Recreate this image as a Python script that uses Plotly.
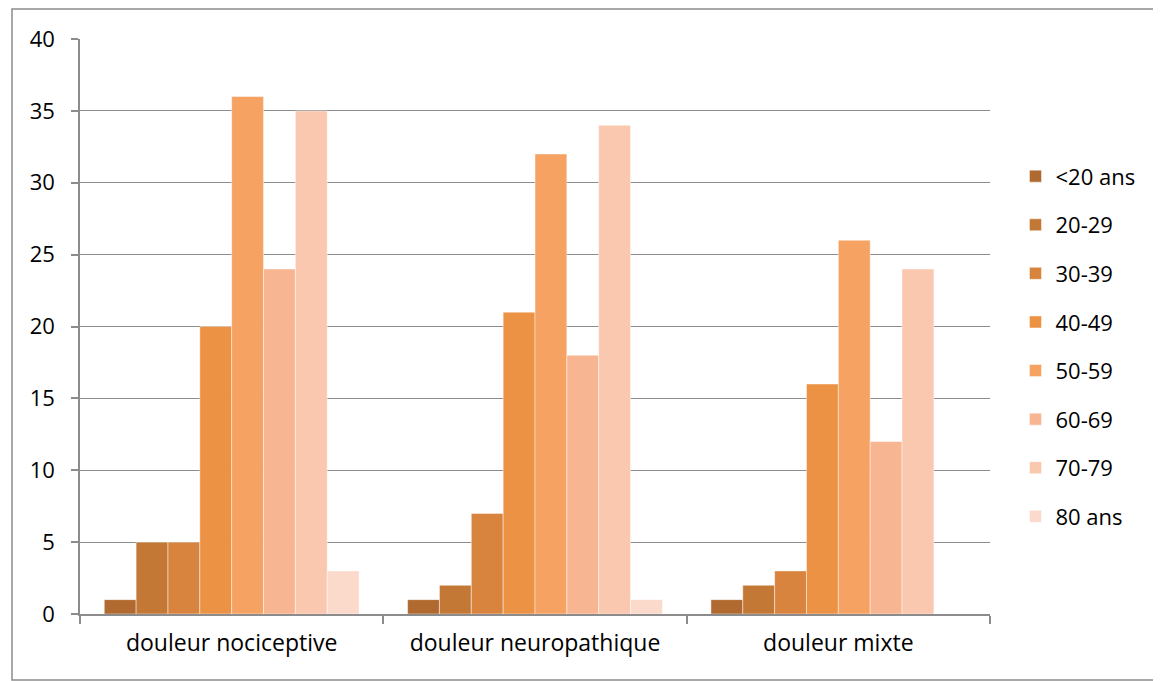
import plotly.graph_objects as go

categories = ["douleur nociceptive", "douleur neuropathique", "douleur mixte"]
series_names = ["<20 ans", "20-29", "30-39", "40-49", "50-59", "60-69", "70-79", "80 ans"]
values_lt20 = [1, 1, 1]
values_20_29 = [5, 2, 2]
values_30_39 = [5, 7, 3]
values_40_49 = [20, 21, 16]
values_50_59 = [36, 32, 26]
values_60_69 = [24, 18, 12]
values_70_79 = [35, 34, 24]
values_80 = [3, 1, 0]
all_values = [values_lt20, values_20_29, values_30_39, values_40_49,
              values_50_59, values_60_69, values_70_79, values_80]
colors = ["#B0692F", "#C47836", "#D9843E", "#EC9244", "#F6A263", "#F7B691", "#F9C8AE", "#FBDACB"]
y_ticks = [0, 5, 10, 15, 20, 25, 30, 35, 40]

FONT = "Open Sans"
FS = 22
W, H = 1153, 673
L, R, T, B = 72, 171, 31, 67
PW = W - L - R
PH = H - T - B

fig = go.Figure()
for name, vals, col in zip(series_names, all_values, colors):
    fig.add_trace(go.Bar(
        x=categories, y=vals, name=name, legendgroup=name,
        marker=dict(color=col, line=dict(color="rgba(255,255,255,0.45)", width=1)),
    ))

# outer chart border
fig.add_shape(type="rect", xref="paper", yref="paper",
              x0=(4 - L) / PW, x1=(W + 20 - L) / PW,
              y0=(T + PH - 672) / PH, y1=(T + PH - 1) / PH,
              line=dict(color="#8C8C8C", width=1.5), fillcolor="rgba(0,0,0,0)", layer="below")

fig.update_layout(
    width=W, height=H,
    margin=dict(l=L, r=R, t=T, b=B),
    paper_bgcolor="white", plot_bgcolor="white",
    barmode="group", bargap=0.16, bargroupgap=0,
    font=dict(family=FONT, size=FS, color="black"),
    showlegend=True,
    legend=dict(x=1.028, xanchor="left", y=0.4655, yanchor="middle",
                tracegroupgap=17, font=dict(family=FONT, size=FS, color="black"),
                bgcolor="rgba(0,0,0,0)"),
    xaxis=dict(showline=True, linecolor="#8C8C8C", linewidth=1.5,
               ticks="outside", tickson="boundaries", ticklen=8, tickcolor="#8C8C8C",
               tickwidth=1.5, showgrid=False, ticklabelstandoff=8,
               tickfont=dict(family=FONT, size=23)),
    yaxis=dict(range=[0, 40], tickvals=y_ticks, showline=True, linecolor="#8C8C8C",
               linewidth=1.5, ticks="outside", ticklen=7, tickcolor="#8C8C8C", tickwidth=1.5,
               showgrid=True, gridcolor="#8C8C8C", gridwidth=1, zeroline=False,
               ticklabelstandoff=12, tickfont=dict(family=FONT, size=FS)),
)
fig.write_html("out.html")
